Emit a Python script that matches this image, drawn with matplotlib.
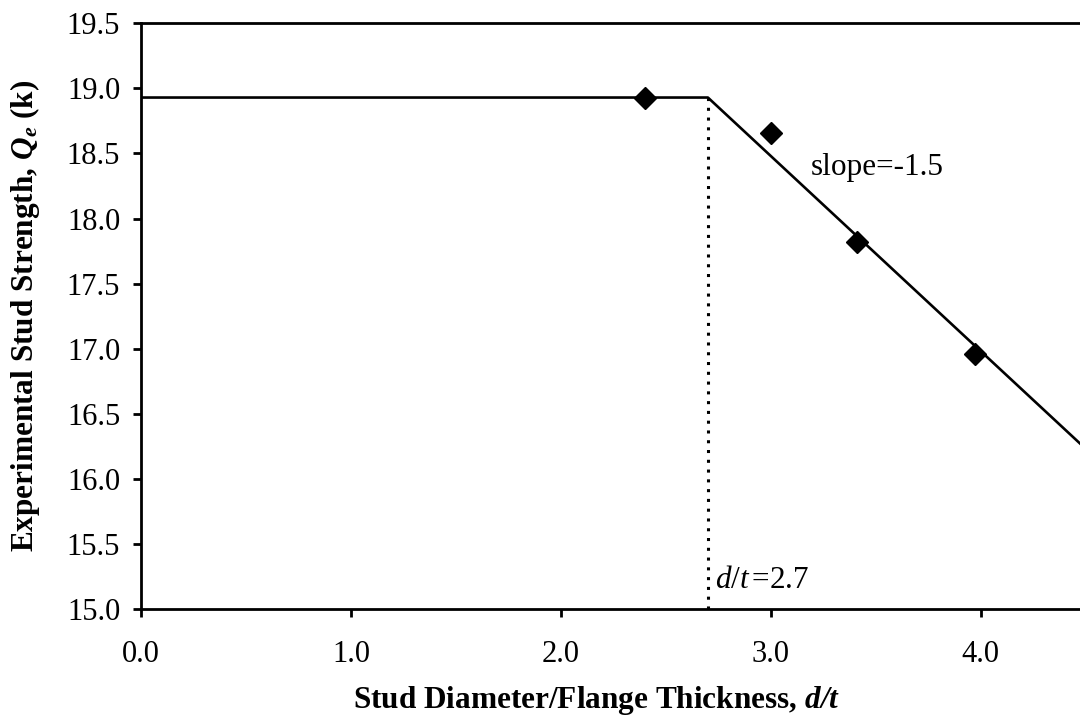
import matplotlib
matplotlib.use("Agg")
import matplotlib.pyplot as plt

plt.rcParams['font.family'] = ['Liberation Serif', 'DejaVu Serif']
plt.rcParams['mathtext.fontset'] = 'custom'
plt.rcParams['mathtext.rm'] = 'Liberation Serif'
plt.rcParams['mathtext.it'] = 'Liberation Serif:italic'
plt.rcParams['mathtext.bf'] = 'Liberation Serif:bold'
plt.rcParams['mathtext.bfit'] = 'Liberation Serif:italic:bold'

# test results: stud diameter / flange thickness vs. experimental strength (kips)
d_over_t = [2.40, 3.00, 3.41, 3.97]
strength = [18.93, 18.66, 17.82, 16.96]

# bilinear fit: plateau up to the break point, then the falling branch
plateau = 18.93
break_dt = 2.7
slope = -1.5
fit_x = [0.0, break_dt, 5.0]
fit_y = [plateau, plateau, plateau + slope * (5.0 - break_dt)]

x_ticks = [0.0, 1.0, 2.0, 3.0, 4.0]
y_ticks = [15.0, 15.5, 16.0, 16.5, 17.0, 17.5, 18.0, 18.5, 19.0, 19.5]

fig = plt.figure(figsize=(10.8, 7.23), dpi=100)
ax = fig.add_axes([0.1306, 0.1577, 0.972, 0.810])

ax.plot(fit_x, fit_y, color='black', lw=1.9, zorder=2)
ax.plot([break_dt, break_dt], [15.0, plateau], color='black', lw=2.2,
        linestyle=(0, (1, 2.2)), zorder=2)
ax.plot(d_over_t, strength, linestyle='none', marker='D', ms=11.5,
        color='black', zorder=3)

ax.text(3.19, 18.39, 'slope=-1.5', fontsize=22.5, va='center', ha='left')
ax.text(2.735, 15.22, r'$d/t\,$=2.7', fontsize=22.5, va='center', ha='left')

ax.set_xlim(0, 5)
ax.set_ylim(15.0, 19.5)
ax.set_xticks(x_ticks)
ax.set_yticks(y_ticks)
ax.set_xticklabels([f'{v:.1f}' for v in x_ticks])
ax.set_yticklabels([f'{v:.1f}' for v in y_ticks])

for side in ['left', 'bottom', 'top', 'right']:
    ax.spines[side].set_linewidth(2.0)
ax.tick_params(axis='both', direction='out', length=6, width=2.0,
               labelsize=22)
ax.tick_params(axis='x', pad=16)
ax.tick_params(axis='y', pad=9)

ax.set_xlabel(r'Stud Diameter/Flange Thickness, $\mathbfit{d/t}$',
              fontsize=22.5, fontweight='bold')
ax.xaxis.set_label_coords(0.434, -0.128)
ax.set_ylabel(r'Experimental Stud Strength, $\mathbfit{Q_e}$ (k)',
              fontsize=22.5, fontweight='bold')
ax.yaxis.set_label_coords(-0.094, 0.5)

fig.savefig('out.png', dpi=100)
